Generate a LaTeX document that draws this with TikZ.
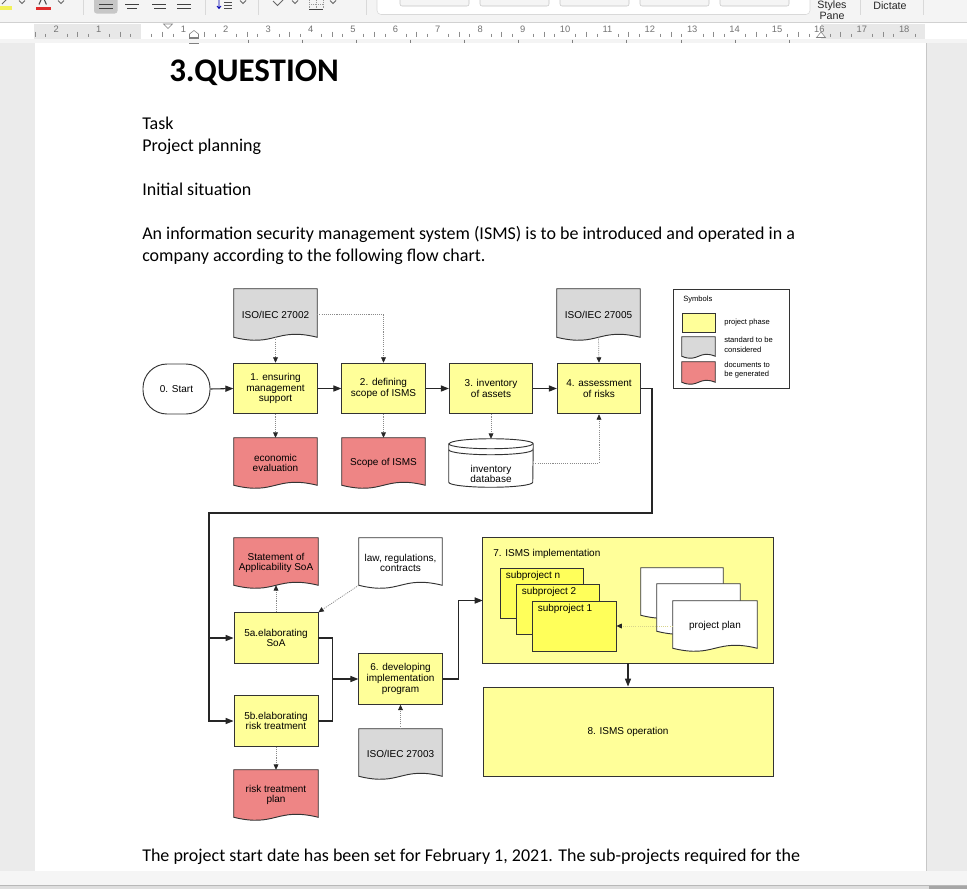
\documentclass[tikz,border=0pt]{standalone}
\usepackage{fontspec}
\setmainfont{Carlito}
\newfontfamily\arial{Liberation Sans}
\usetikzlibrary{arrows.meta,calc}
\pgfdeclarelayer{background}
\pgfsetlayers{background,main}
\definecolor{phase}{HTML}{FFFF99}
\definecolor{subp}{HTML}{FFFF5A}
\definecolor{gendoc}{HTML}{EE8585}
\definecolor{stddoc}{HTML}{D9D9D9}
\definecolor{frame}{HTML}{333333}
\definecolor{dotc}{HTML}{8A8A8A}
\definecolor{uigray}{HTML}{EBEBEB}
\definecolor{tbar}{HTML}{F4F4F4}
\definecolor{hlyellow}{HTML}{F2F25A}
\definecolor{fcred}{HTML}{E02B2B}
\newcommand\diagfont{\arial\fontsize{7.5}{8.1}\selectfont}
\newcommand\legfont{\arial\fontsize{5.7}{7.1}\selectfont}
\newcommand\rulefont{\arial\fontsize{7}{8}\selectfont}
\newcommand\uifont{\arial\fontsize{8}{8.5}\selectfont}
% document shape drawn behind a named node: [wave amplitude]{node}{fill}
\newcommand\mydocshape[3][3]{%
  \filldraw[fill=#3, draw=frame, line width=0.7pt]
  ($(#2.south west)+(0,-#1)$) -- (#2.north west) -- (#2.north east) -- ($(#2.south east)+(0,-#1)$)
  .. controls ($(#2.south)+(0,-4.45*#1)$) and ($(#2.south)+(0,2.45*#1)$) .. ($(#2.south west)+(0,-#1)$) -- cycle;}
\newcommand\mycylinder[1]{%
  \filldraw[fill=white, draw=frame, line width=0.7pt]
  ($(#1.north west)+(0,5)$) -- ($(#1.south west)+(0,-5)$)
  arc[start angle=180, end angle=0, x radius=42, y radius=5]
  -- ($(#1.north east)+(0,5)$)
  arc[start angle=0, end angle=-180, x radius=42, y radius=5] -- cycle;
  \draw[frame, line width=0.7pt] ($(#1.north west)+(0,5)$) arc[start angle=180, end angle=0, x radius=42, y radius=5];
  \draw[frame, line width=0.7pt] ($(#1.north west)+(0,11)$) arc[start angle=180, end angle=0, x radius=42, y radius=5];}
\tikzset{
  diagtxt/.style={font=\diagfont, align=center, text=black},
  phasebox/.style={diagtxt, draw=frame, fill=phase, line width=0.7pt, inner sep=1pt, minimum width=62.5pt, minimum height=38pt},
  subbox/.style={draw=frame, fill=subp, line width=0.7pt, inner sep=0pt, minimum width=62.25pt, minimum height=37.5pt},
  docnode/.style={diagtxt, inner sep=1pt, minimum width=62.25pt, minimum height=37.5pt},
  startnode/.style={diagtxt, draw=frame, fill=white, line width=0.7pt, rounded corners=18pt, minimum width=50.25pt, minimum height=37.5pt},
  flowline/.style={draw=black!85, line width=0.8pt},
  flowarrow/.style={flowline, -{Triangle[length=6pt,width=4.6pt]}},
  deparrow/.style={draw=dotc, line width=0.55pt, dash pattern=on 0.8pt off 0.8pt, -{Triangle[length=4pt,width=3.6pt,color=black!85]}},
  bodytxt/.style={anchor=base west, inner sep=0pt, font=\fontsize{13.5}{16.5}\selectfont},
  legtxt/.style={font=\legfont, align=left, anchor=west, inner sep=0pt},
  rulenum/.style={font=\rulefont, text=black!55, inner sep=0pt},
  uitext/.style={font=\uifont, text=black!85, inner sep=0pt},
}
\begin{document}
\begin{tikzpicture}[x=0.75pt,y=-0.75pt]
\useasboundingbox (0,0) rectangle (967,889);

% ---------------- application frame ----------------
\begin{pgfonlayer}{background}
\fill[uigray] (0,0) rectangle (967,889);
\fill[white] (35,43) rectangle (926,871);
\draw[black!22, line width=0.6pt] (926,43) -- (926,871);
% toolbar
\fill[tbar] (0,0) rectangle (967,22.5);
\draw[black!18] (0,22.5) -- (967,22.5);
\fill[hlyellow] (0,6) rectangle (12,9.5);
\draw[black!60, line width=0.6pt] (2,4) -- (7,-1);
\draw[black!70, line width=0.8pt] (39,4.5) -- (42.7,-4) -- (46.4,4.5);
\fill[fcred] (35.5,6.5) rectangle (50.5,9.5);
\foreach \cx in {22,61,243,295,333}{\draw[black!60, line width=0.6pt] (\cx-3,0.5) -- (\cx,3.5) -- (\cx+3,0.5);}
\foreach \sx in {83,205,258,366}{\draw[black!15] (\sx,0) -- (\sx,15);}
\fill[black!22, rounded corners=2pt] (94,-3) rectangle (117.5,13.5);
\draw[black!75, line width=0.7pt] (99,4.5) -- (113,4.5) (99,8.5) -- (113,8.5);
\draw[black!75, line width=0.7pt] (125,4.5) -- (139,4.5) (127,8.5) -- (137,8.5);
\draw[black!75, line width=0.7pt] (152,4.5) -- (166,4.5) (154,8.5) -- (166,8.5);
\draw[black!75, line width=0.7pt] (177,4.5) -- (191,4.5) (177,8.5) -- (191,8.5);
\draw[blue!70!black, line width=0.6pt] (219,0) -- (219,8) (217,6) -- (219,8.5) -- (221,6);
\draw[black!70, line width=0.6pt] (224,2) -- (232,2) (224,5) -- (232,5) (224,8) -- (232,8);
\draw[black!60, line width=0.6pt] (273,1) -- (277.5,5.5) -- (283,0);
\draw[black!75, line width=0.7pt] (309,9) -- (323,9);
\draw[black!40, densely dotted] (309,0) -- (309,8) (323,0) -- (323,8) (316,0) -- (316,8) (309,4) -- (323,4);
\filldraw[fill=white, draw=black!15, rounded corners=3pt] (377,-6) rectangle (810,14.5);
\foreach \bx in {400,480,560,640,720}{
  \filldraw[fill=black!4, draw=black!22, rounded corners=1.5pt] (\bx,-6) rectangle (\bx+69,6);}
\node[uitext] (stylesA) at (832,6) {Styles};
\node[uitext] (stylesB) at (832,15.5) {Pane};
\draw[black!15] (860,0) -- (860,15) (923,0) -- (923,15);
\node[uitext] (dictate) at (890,6) {Dictate};
% ruler
\fill[white] (0,23) rectangle (967,39);
\fill[black!9] (34,24) rectangle (141,38.5);
\fill[black!9] (821,24) rectangle (925,38.5);
\foreach \k in {-10,...,73}{
  \pgfmathtruncatemacro\m{mod(\k+40,4)}
  \ifnum\m=0\relax\else
    \ifnum\m=2\relax
      \draw[black!45, line width=0.4pt] (141+10.6*\k,31.5) -- (141+10.6*\k,36.5);
    \else
      \draw[black!45, line width=0.4pt] (141+10.6*\k,33.5) -- (141+10.6*\k,36.5);
    \fi
  \fi}
\foreach \n in {1,...,18}{\node[rulenum] (rn\n) at (141+42.4*\n,29.5) {\n};}
\node[rulenum] (rl1) at (98.6,29.5) {1};
\node[rulenum] (rl2) at (56.2,29.5) {2};
\draw[black!50, fill=white, line width=0.4pt] (163.5,24) -- (172.5,24) -- (168,28.5) -- cycle;
\draw[black!50, fill=white, line width=0.4pt] (189.5,37.5) -- (189.5,34) -- (194,30.5) -- (198.5,34) -- (198.5,37.5) -- cycle;
\draw[black!50, fill=white, line width=0.4pt] (189.5,38.5) rectangle (198.5,43.5);
\draw[black!50, fill=white, line width=0.4pt] (816.5,37.5) -- (821,32) -- (825.5,37.5) -- cycle;
\fill[tbar] (0,39) rectangle (967,43);
\foreach \i in {0,...,10}{\draw[black!50, line width=0.4pt] (248+54.1*\i,39.5) -- (248+54.1*\i,42.5);}
% bottom bar
\fill[black!4] (0,871) rectangle (967,885);
\draw[black!28] (0,885) -- (967,885);
\fill[black!13] (0,885.5) rectangle (967,889);
\fill[black!35] (929,886) rectangle (967,889);
\end{pgfonlayer}

% ---------------- document text ----------------
\node[anchor=base west, inner sep=0pt, font=\fontsize{24.75}{28}\bfseries\selectfont] (head) at (169,81) {3.QUESTION};
\node[bodytxt] (ttask) at (142,129) {Task};
\node[bodytxt] (tproj) at (142,151) {Project planning};
\node[bodytxt] (tinit) at (142,195) {Initial situation};
\node[bodytxt] (tline1) at (142,239) {An information security management system (ISMS) is to be introduced and operated in a};
\node[bodytxt] (tline2) at (142,261) {company according to the following flow chart.};
\node[bodytxt] (tline3) at (142,861) {The project start date has been set for February 1, 2021. The sub-projects required for the};

% ---------------- flow chart: first row ----------------
\node[startnode] (s0) at (176.5,389) {0. Start};
\node[phasebox] (b1) at (275.5,388.5) {1. ensuring\\management\\support};
\node[phasebox] (b2) at (383.5,388.5) {2. defining\\scope of ISMS};
\node[phasebox] (b3) at (491,388.5) {3. inventory\\of assets};
\node[phasebox] (b4) at (599,388.5) {4. assessment\\of risks};

\node[docnode, minimum height=38.25pt] (iso2) at (275.5,314.5) {ISO/IEC 27002};
\node[docnode, minimum height=38.25pt] (iso5) at (598.5,314.5) {ISO/IEC 27005};
\node[docnode] (econ) at (275.5,463) {economic\\evaluation};
\node[docnode] (scope) at (383.5,463) {Scope of ISMS};
\node[inner sep=0pt, minimum width=63pt, minimum height=36pt] (db) at (491,463) {};
\node[diagtxt, inner sep=0pt] (dbt) at ($(db.center)+(0,11)$) {inventory\\database};

% legend
\node[draw=frame, line width=0.7pt, minimum width=87pt, minimum height=74.25pt, inner sep=0pt] (legend) at (731,338.5) {};
\node[legtxt] (lsym) at (683,300) {Symbols};
\node[draw=frame, fill=phase, line width=0.7pt, minimum width=24.75pt, minimum height=14.25pt, inner sep=0pt] (lyel) at (698.5,322.5) {};
\node[inner sep=0pt, minimum width=24.75pt, minimum height=15.75pt] (lgray) at (698.5,347.5) {};
\node[inner sep=0pt, minimum width=24.75pt, minimum height=16.5pt] (lred) at (698.5,373) {};
\node[legtxt] (lt1) at (724,322.5) {project phase};
\node[legtxt] (lt2) at (724,345) {standard to be\\considered};
\node[legtxt] (lt3) at (724,370) {documents to\\be generated};

% ---------------- flow chart: second part ----------------
\node[docnode, minimum width=63pt] (soa) at (276,563) {Statement of\\Applicability SoA};
\node[docnode] (law) at (400.5,563) {law, regulations,\\contracts};
\node[phasebox, minimum width=63pt] (b5a) at (276,638) {5a.elaborating\\SoA};
\node[phasebox, minimum width=63pt] (b5b) at (276,721) {5b.elaborating\\risk treatment};
\node[docnode, minimum width=63pt] (rtp) at (276,795) {risk treatment\\plan};
\node[phasebox] (b6) at (400.5,679) {6. developing\\implementation\\program};
\node[docnode] (iso3) at (400.5,754) {ISO/IEC 27003};

\node[inner sep=0pt, minimum width=217.5pt, minimum height=93.75pt] (b7) at (628,600.5) {};
\node[diagtxt, anchor=base west, inner sep=0pt] (b7t) at (493,556) {7. ISMS implementation};
\node[subbox] (subn) at (541.5,593) {};
\node[diagtxt, anchor=base west, inner sep=0pt] (subnt) at ($(subn.north west)+(6,11)$) {subproject n};
\node[subbox] (sub2) at (557.5,609) {};
\node[diagtxt, anchor=base west, inner sep=0pt] (sub2t) at ($(sub2.north west)+(6,11)$) {subproject 2};
\node[subbox, minimum width=63pt] (sub1) at (574,626) {};
\node[diagtxt, anchor=base west, inner sep=0pt] (sub1t) at ($(sub1.north west)+(6,11)$) {subproject 1};
\node[docnode, minimum width=61.5pt] (pp3) at (682,593) {};
\node[docnode] (pp2) at (698.5,609) {};
\node[docnode, minimum width=63pt] (pp1) at (715,626) {project plan};

\node[diagtxt, draw=frame, fill=phase, line width=0.7pt, minimum width=217.5pt, minimum height=66.75pt, inner sep=0pt] (b8) at (628,731.5) {8. ISMS operation};

% shapes behind the text nodes
\begin{pgfonlayer}{background}
\filldraw[fill=phase, draw=frame, line width=0.7pt] (b7.north west) rectangle (b7.south east);
\mydocshape{iso2}{stddoc}
\mydocshape{iso5}{stddoc}
\mydocshape{econ}{gendoc}
\mydocshape{scope}{gendoc}
\mycylinder{db}
\mydocshape[2]{lgray}{stddoc}
\mydocshape[2]{lred}{gendoc}
\mydocshape{soa}{gendoc}
\mydocshape{law}{white}
\mydocshape{rtp}{gendoc}
\mydocshape{iso3}{stddoc}
\mydocshape{pp3}{white}
\mydocshape{pp2}{white}
\mydocshape{pp1}{white}
\end{pgfonlayer}

% ---------------- connectors ----------------
\draw[flowarrow] (s0.east) -- (b1.west);
\draw[flowarrow] (b1.east) -- (b2.west);
\draw[flowarrow] (b2.east) -- (b3.west);
\draw[flowarrow] (b3.east) -- (b4.west);
\draw[deparrow] ($(iso2.south)+(0,-3)$) -- (b1.north);
\draw[deparrow] (iso2.east) -| (b2.north);
\draw[deparrow] ($(iso5.south)+(0,-3)$) -- (b4.north);
\draw[deparrow] (b1.south) -- (econ.north);
\draw[deparrow] (b2.south) -- (scope.north);
\draw[deparrow] (b3.south) -- (db.north);
\draw[deparrow] (db.east) -| (b4.south);

\coordinate (r1) at (652,513);
\coordinate (r2) at (209,513);
\draw[flowarrow] (b4.east) -| (r1) -- (r2) |- (b5b.west);
\draw[flowarrow] (r2 |- b5a.west) -- (b5a.west);

\draw[deparrow] (b5a.north) -- ($(soa.south)+(0,-3)$);
\draw[deparrow] ($(law.south west)+(0,-3)$) -- (b5a.north east);
\draw[deparrow] (b5b.south) -- (rtp.north);
\draw[deparrow] (iso3.north) -- (b6.south);

\coordinate (jn) at ($(b6.west)+(-26,0)$);
\draw[flowline] (b5a.east) -| (jn);
\draw[flowline] (b5b.east) -| (jn);
\draw[flowarrow] (jn) -- (b6.west);
\draw[flowarrow] (b6.east) -- ++(15.5,0) |- (b7.west);
\draw[flowarrow] (b7.south) -- (b8.north);
\draw[deparrow, draw=olive!35] (pp1.west) -- (sub1.east);
\end{tikzpicture}
\end{document}
